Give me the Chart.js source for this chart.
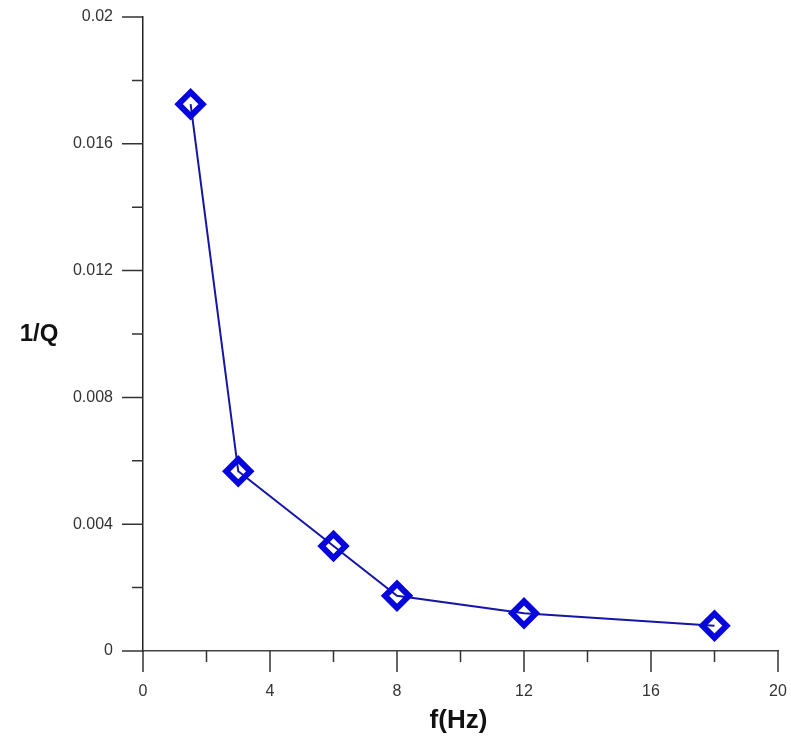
<!DOCTYPE html>
<html>
<head>
<meta charset="utf-8">
<script src="https://cdn.jsdelivr.net/npm/chart.js@4"></script>
<style>
  html, body { margin: 0; padding: 0; background: #fff; }
  #wrap { width: 791px; height: 742px; }
</style>
</head>
<body>
<div id="wrap"><canvas id="chart" width="791" height="742"></canvas></div>
<script>
// frequency (Hz) and attenuation 1/Q
const freqs = [1.5, 3, 6, 8, 12, 18];
const invQ = [0.01725, 0.00567, 0.00331, 0.00174, 0.00119, 0.0008];

const xTitle = 'f(Hz)';
const yTitle = '1/Q';

const FONT = "'Liberation Sans', Arial, sans-serif";

// outward major/minor ticks, drawn through the scales
const axisTicks = {
  id: 'axisTicks',
  afterDraw(chart) {
    const { ctx, scales: { x, y } } = chart;
    const x0 = x.getPixelForValue(0);
    const y0 = y.getPixelForValue(0);
    ctx.save();
    ctx.strokeStyle = '#333';
    ctx.lineWidth = 1.5;
    ctx.beginPath();
    for (let v = 0; v <= 20.001; v += 2) {
      const px = x.getPixelForValue(v);
      const len = (Math.round(v) % 4 === 0) ? 21 : 11;
      ctx.moveTo(px, y0);
      ctx.lineTo(px, y0 + len);
    }
    for (let i = 0; i <= 10; i++) {
      const py = y.getPixelForValue(i * 0.002);
      const len = (i % 2 === 0) ? 21 : 11;
      ctx.moveTo(x0, py);
      ctx.lineTo(x0 - len, py);
    }
    ctx.stroke();

    // axis titles
    ctx.fillStyle = '#111';
    ctx.textAlign = 'center';
    ctx.textBaseline = 'middle';
    ctx.font = 'bold 24px ' + FONT;
    ctx.fillText(yTitle, 39, (y.top + y.bottom) / 2);
    ctx.font = 'bold 26px ' + FONT;
    ctx.fillText(xTitle, (x.left + x.right) / 2 - 2, 721);
    ctx.restore();
  }
};

new Chart(document.getElementById('chart'), {
  type: 'scatter',
  data: {
    datasets: [{
      data: freqs.map((f, i) => ({ x: f, y: invQ[i] })),
      showLine: true,
      borderColor: '#1515a8',
      borderWidth: 2,
      pointStyle: 'rectRot',
      pointRadius: 12,
      pointHoverRadius: 12,
      pointBorderWidth: 6,
      pointBorderColor: '#0505dc',
      pointBackgroundColor: 'rgba(0,0,0,0)',
    }],
  },
  options: {
    responsive: false,
    animation: false,
    layout: { autoPadding: false, padding: { top: 17, right: 13, bottom: 0, left: 0 } },
    plugins: {
      legend: { display: false },
      tooltip: { enabled: false },
    },
    scales: {
      x: {
        type: 'linear',
        min: 0,
        max: 20,
        grid: { display: false, drawTicks: false },
        border: { display: true, color: '#444', width: 1.5 },
        ticks: {
          stepSize: 4,
          padding: 31,
          color: '#333',
          font: { family: FONT, size: 16 },
        },
        afterFit(scale) {
          scale.height = 91;
          scale.paddingLeft = 0;
          scale.paddingRight = 0;
        },
      },
      y: {
        type: 'linear',
        min: 0,
        max: 0.02,
        grid: { display: false, drawTicks: false },
        border: { display: true, color: '#222', width: 1.5 },
        ticks: {
          stepSize: 0.004,
          padding: 30,
          color: '#333',
          font: { family: FONT, size: 16 },
          callback: v => String(Number(v.toFixed(3))),
        },
        afterFit(scale) {
          scale.width = 143;
          scale.paddingTop = 0;
          scale.paddingBottom = 0;
        },
      },
    },
  },
  plugins: [axisTicks],
});
</script>
</body>
</html>
